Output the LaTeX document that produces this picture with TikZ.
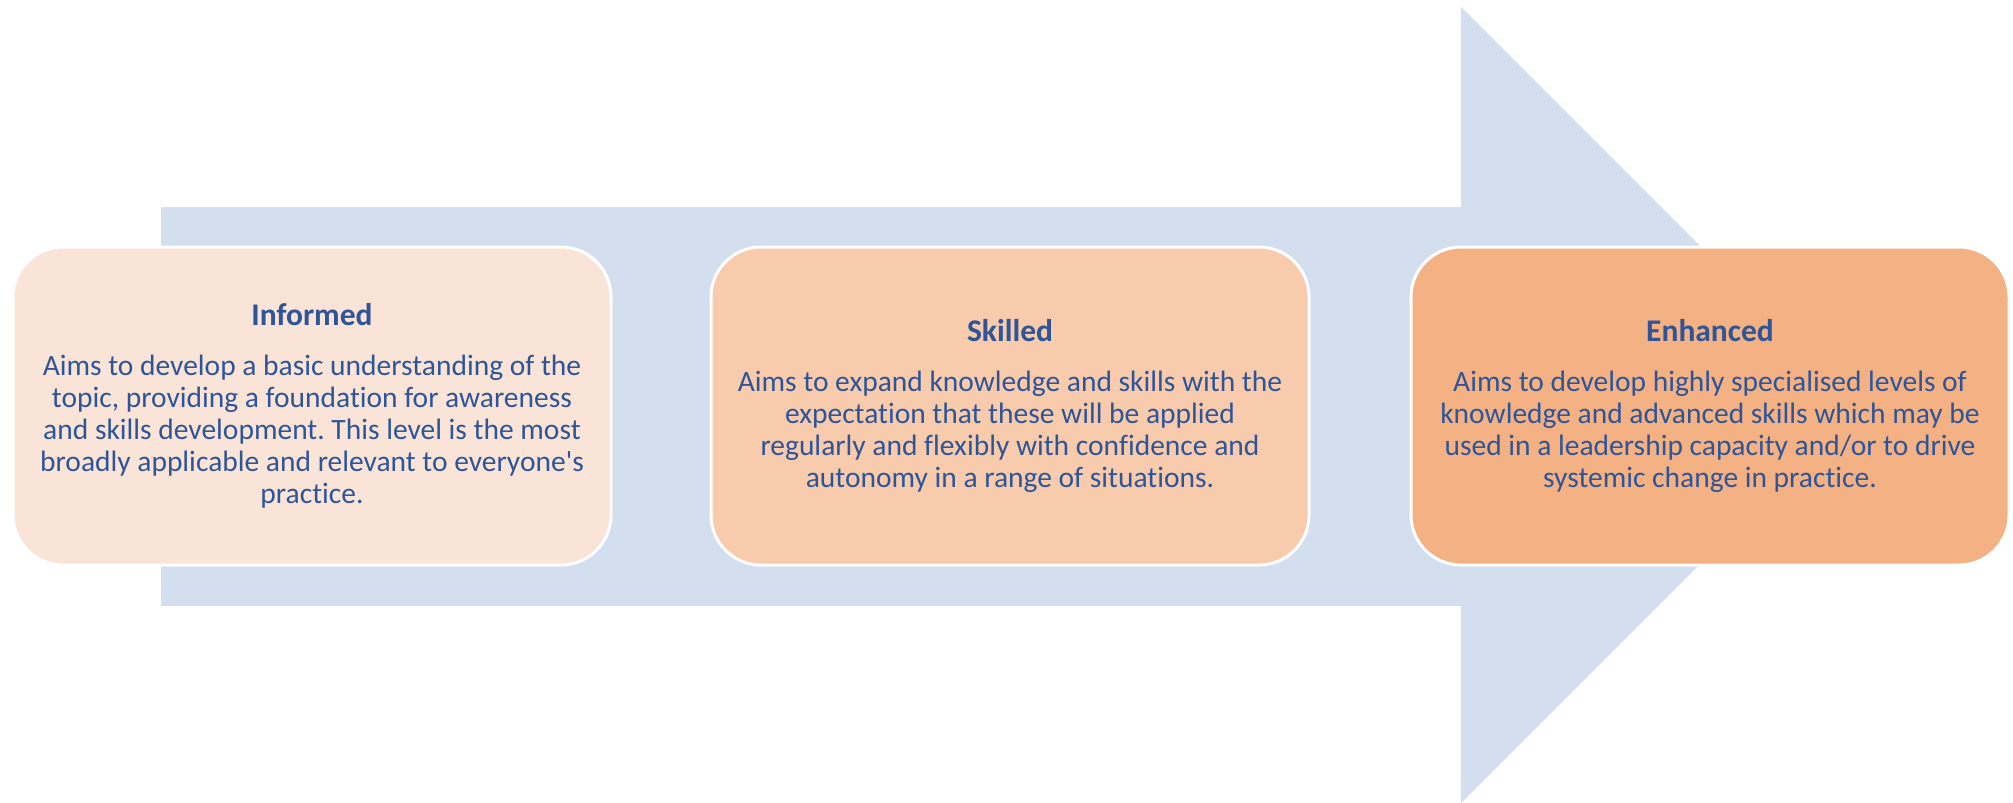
\documentclass[tikz,border=0pt]{standalone}
\usepackage{fontspec}
\setmainfont{Carlito}[Ligatures=NoCommon]
\frenchspacing
\definecolor{arrowblue}{HTML}{D3DEEF}
\definecolor{levelone}{HTML}{FAE4D7}
\definecolor{leveltwo}{HTML}{F8CBAD}
\definecolor{levelthree}{HTML}{F4B183}
\definecolor{textblue}{HTML}{2F5597}
\newcommand{\leveltitle}[1]{{\fontsize{31.5}{32}\selectfont\bfseries #1}}
\tikzset{
  levelbox/.style={draw=white, line width=3pt, rounded corners=50pt,
    minimum width=598pt, minimum height=318pt, align=center,
    text=textblue, font=\fontsize{29.5}{32}\selectfont, inner sep=0pt},
}
\begin{document}
\begin{tikzpicture}[x=1pt,y=-1pt]
  \useasboundingbox (0,0) rectangle (2013,803);
  % background progression arrow
  \fill[arrowblue] (161,207) -- (1461,207) -- (1461,7) -- (1859,405)
    -- (1461,803) -- (1461,606) -- (161,606) -- cycle;
  % three levels
  \node[levelbox, fill=levelone] (informed) at (312,406)
    {\leveltitle{Informed}\\[18pt]
     Aims to develop a basic understanding of the\\
     topic, providing a foundation for awareness\\
     and skills development. This level is the most\\
     broadly applicable and relevant to everyone\textquotesingle s\\
     practice.};
  \node[levelbox, fill=leveltwo] (skilled) at (1010,406)
    {\leveltitle{Skilled}\\[18pt]
     Aims to expand knowledge and skills with the\\
     expectation that these will be applied\\
     regularly and flexibly with confidence and\\
     autonomy in a range of situations.};
  \node[levelbox, fill=levelthree] (enhanced) at (1710,406)
    {\leveltitle{Enhanced}\\[18pt]
     Aims to develop highly specialised levels of\\
     knowledge and advanced skills which may be\\
     used in a leadership capacity and/or to drive\\
     systemic change in practice.};
\end{tikzpicture}
\end{document}
